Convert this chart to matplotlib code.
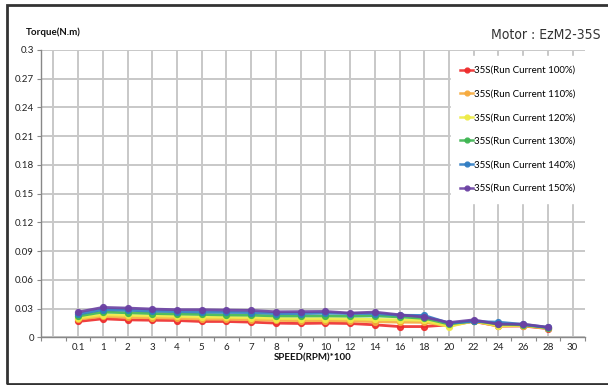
import matplotlib
matplotlib.use("Agg")
import matplotlib.pyplot as plt
from matplotlib.patches import Rectangle

plt.rcParams['font.family'] = ['Lato', 'DejaVu Sans']

# Speed categories (x100 RPM); the first slot on the axis is left empty
tick_labels = ["", "0.1", "1", "2", "3", "4", "5", "6", "7", "8", "9", "10",
               "12", "14", "16", "18", "20", "22", "24", "26", "28", "30"]
speeds = ["0.1", "1", "2", "3", "4", "5", "6", "7", "8", "9", "10",
          "12", "14", "16", "18", "20", "22", "24", "26", "28"]

torque_100 = [0.0167, 0.0195, 0.0184, 0.0180, 0.0177, 0.0167, 0.0167, 0.0160, 0.0150, 0.0146,
              0.0150, 0.0146, 0.0132, 0.0114, 0.0114, 0.0132, 0.0167, 0.0120, 0.0120, 0.0093]
torque_110 = [0.0190, 0.0220, 0.0210, 0.0205, 0.0200, 0.0192, 0.0190, 0.0186, 0.0178, 0.0175,
              0.0176, 0.0172, 0.0165, 0.0160, 0.0158, 0.0120, 0.0170, 0.0118, 0.0125, 0.0095]
torque_120 = [0.0202, 0.0237, 0.0230, 0.0225, 0.0220, 0.0212, 0.0210, 0.0205, 0.0198, 0.0195,
              0.0197, 0.0193, 0.0188, 0.0185, 0.0178, 0.0114, 0.0172, 0.0122, 0.0127, 0.0098]
torque_130 = [0.0223, 0.0265, 0.0258, 0.0250, 0.0245, 0.0240, 0.0235, 0.0232, 0.0225, 0.0224,
              0.0225, 0.0222, 0.0225, 0.0215, 0.0200, 0.0140, 0.0175, 0.0140, 0.0132, 0.0102]
torque_140 = [0.0244, 0.0290, 0.0284, 0.0275, 0.0270, 0.0265, 0.0262, 0.0260, 0.0250, 0.0250,
              0.0255, 0.0250, 0.0250, 0.0232, 0.0230, 0.0150, 0.0167, 0.0160, 0.0137, 0.0105]
torque_150 = [0.0265, 0.0314, 0.0307, 0.0297, 0.0290, 0.0290, 0.0286, 0.0283, 0.0268, 0.0270,
              0.0272, 0.0255, 0.0265, 0.0237, 0.0213, 0.0156, 0.0184, 0.0139, 0.0139, 0.0107]

series_labels = ["35S(Run Current 100%)", "35S(Run Current 110%)", "35S(Run Current 120%)",
                 "35S(Run Current 130%)", "35S(Run Current 140%)", "35S(Run Current 150%)"]
series_values = [torque_100, torque_110, torque_120, torque_130, torque_140, torque_150]
series_colors = ["#EE2B2B", "#F6AA3C", "#EDEB45", "#3DB551", "#2F7CC3", "#6B41A3"]

y_ticks = [0, 0.03, 0.06, 0.09, 0.12, 0.15, 0.18, 0.21, 0.24, 0.27, 0.3]
y_tick_labels = ["0", "0.03", "0.06", "0.09", "0.12", "0.15", "0.18", "0.21", "0.24", "0.27", "0.3"]

fig = plt.figure(figsize=(6.08, 3.85), dpi=100)
ax = fig.add_axes([0.0674, 0.1234, 0.8947, 0.7468])

x_pos = [tick_labels.index(s) for s in speeds]
for vals, lab, col in zip(series_values, series_labels, series_colors):
    ax.plot(x_pos, vals, color=col, lw=2.0, marker='o', ms=4.2, alpha=0.9,
            label=lab, zorder=3)

ax.set_xlim(-0.5, len(tick_labels) - 0.5)
ax.set_ylim(0, 0.3)

ax.set_xticks(range(len(tick_labels)))
ax.set_xticklabels(tick_labels, fontsize=7, color='#222222')
ax.set_xticks([i - 0.5 for i in range(len(tick_labels) + 1)], minor=True)
ax.tick_params(axis='x', which='major', length=0, pad=4)
ax.tick_params(axis='x', which='minor', length=3, color='#888888', width=0.8)

ax.set_yticks(y_ticks)
ax.set_yticklabels(y_tick_labels, fontsize=7, color='#222222')
ax.tick_params(axis='y', which='major', length=3, color='#888888', width=0.8, pad=2)

ax.grid(True, which='major', color='#C8C8C8', lw=1.4)
ax.set_axisbelow(True)
for side in ['top', 'right']:
    ax.spines[side].set_visible(False)
for side in ['left', 'bottom']:
    ax.spines[side].set_color('#888888')
    ax.spines[side].set_linewidth(1.0)

ax.set_xlabel("SPEED(RPM)*100", fontsize=7, fontweight='bold', labelpad=1, color='#111111')
fig.text(0.042, 0.916, "Torque(N.m)", fontsize=7, fontweight='bold', color='#111111',
         ha='left', va='center')
fig.text(0.988, 0.908, "Motor : EzM2-35S", fontsize=10, color='#333333',
         ha='right', va='center', family='DejaVu Sans', fontstretch='condensed')

leg = ax.legend(loc='upper right', bbox_to_anchor=(1.0, 0.978), fontsize=7,
                frameon=True, fancybox=False, facecolor='white', edgecolor='white',
                framealpha=1.0, handlelength=1.3, handletextpad=0.1,
                labelspacing=1.5, borderpad=1.0, borderaxespad=0)
leg.set_zorder(5)
for h in leg.legend_handles:
    h.set_markersize(3.5)
    h.set_linewidth(1.8)

# Outer frame around the whole chart
fig.patches.append(Rectangle((7 / 608, 1 / 385), 1.2, (379 / 385), transform=fig.transFigure,
                             fill=False, edgecolor='#333333', lw=2.0, clip_on=False))

fig.savefig("out.png", dpi=100, facecolor='white')
